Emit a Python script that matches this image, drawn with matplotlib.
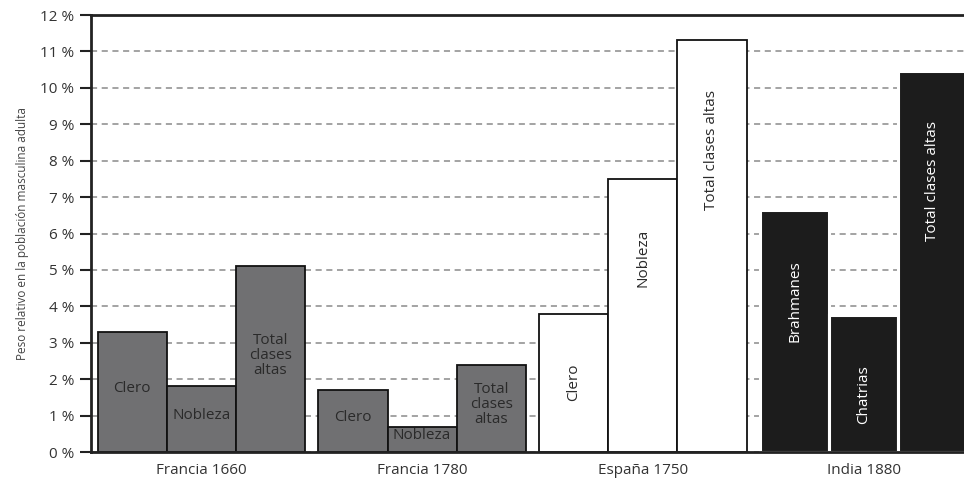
import matplotlib.pyplot as plt
import numpy as np

plt.rcParams['font.family'] = ['Open Sans', 'DejaVu Sans']

groups = ["Francia 1660", "Francia 1780", "España 1750", "India 1880"]
bar_labels = [
    ["Clero", "Nobleza", "Total\nclases\naltas"],
    ["Clero", "Nobleza", "Total\nclases\naltas"],
    ["Clero", "Nobleza", "Total clases altas"],
    ["Brahmanes", "Chatrias", "Total clases altas"],
]
values = [
    [3.3, 1.8, 5.1],
    [1.7, 0.7, 2.4],
    [3.8, 7.5, 11.3],
    [6.65, 3.75, 10.45],
]
fills = ["#707072", "#707072", "#ffffff", "#1c1c1c"]
edges = ["#111111", "#111111", "#111111", "#ffffff"]
text_colors = ["#2a2a2a", "#2a2a2a", "#2a2a2a", "#ffffff"]
rotated = [False, False, True, True]
y_ticks = list(range(0, 13))

fig = plt.figure(figsize=(9.64, 4.88), dpi=100)
ax = fig.add_axes([91 / 964, 36 / 488, 883 / 964, 437 / 488])

width = 0.313
offsets = np.array([-1, 0, 1]) * width
for gi, g in enumerate(groups):
    xs = gi + offsets
    ax.bar(xs, values[gi], width=width, color=fills[gi], edgecolor=edges[gi],
           linewidth=1.3 if gi < 3 else 2.2, zorder=3)
    for x, v, lab in zip(xs, values[gi], bar_labels[gi]):
        if rotated[gi]:
            ax.annotate(lab, (x, v), xytext=(0, -36), textcoords="offset points",
                        rotation=90, ha="center", va="top", fontsize=11,
                        color=text_colors[gi], zorder=4)
        else:
            ax.text(x, v / 2 + 0.1, lab, ha="center", va="center", fontsize=11,
                    color=text_colors[gi], linespacing=1.0, zorder=4)

ax.set_xlim(-0.5, 3.5)
ax.set_ylim(0, 12)
ax.set_yticks(y_ticks)
ax.set_yticklabels([f"{t} %" for t in y_ticks], fontsize=11, color="#333333")
ax.set_xticks(range(len(groups)))
ax.set_xticklabels(groups, fontsize=11, color="#333333")
ax.tick_params(axis="x", length=0, pad=8)
ax.tick_params(axis="y", length=8, width=1.5, color="#222222", pad=4)
ax.set_ylabel("Peso relativo en la población masculina adulta", fontsize=8.5,
              color="#444444", labelpad=8)

ax.grid(axis="y", linestyle=(0, (4, 3)), color="#8a8a8a", linewidth=1.1, zorder=0)
for s in ["left", "top", "bottom"]:
    ax.spines[s].set_linewidth(2)
    ax.spines[s].set_color("#222222")
    ax.spines[s].set_zorder(5)
ax.spines["right"].set_visible(False)

fig.savefig("out.png", dpi=100)
